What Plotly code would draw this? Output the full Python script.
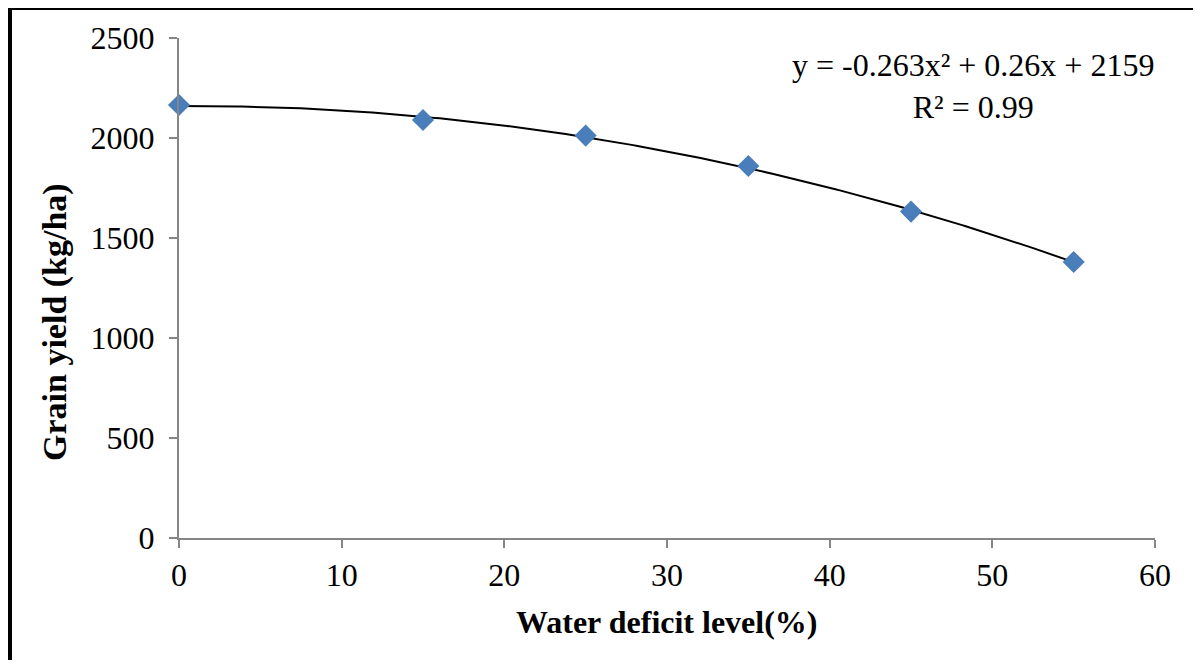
import numpy as np
import plotly.graph_objects as go

# Data
water_deficit = [0, 15, 25, 35, 45, 55]
grain_yield = [2165, 2090, 2012, 1860, 1632, 1380]

x_ticks = [0, 10, 20, 30, 40, 50, 60]
y_ticks = [0, 500, 1000, 1500, 2000, 2500]

equation_text = "y = -0.263x² + 0.26x + 2159"
r2_text = "R² = 0.99"

# Polynomial (order 2) trendline, as in the original
coef = np.polyfit(water_deficit, grain_yield, 2)
xs = np.linspace(min(water_deficit), max(water_deficit), 200)
ys = np.polyval(coef, xs)

FONT = "Liberation Serif, Times New Roman, serif"

fig = go.Figure()
fig.add_trace(go.Scatter(x=xs, y=ys, mode="lines",
                         line=dict(color="black", width=2),
                         hoverinfo="skip", showlegend=False, cliponaxis=False))
fig.add_trace(go.Scatter(x=water_deficit, y=grain_yield, mode="markers",
                         marker=dict(symbol="diamond", size=17, color="#4A7EBB",
                                     line=dict(width=0)),
                         showlegend=False, cliponaxis=False))

OFF = 8  # page body margin
W, H = 1201 - OFF, 668 - 2 * OFF
L, T = 179 - OFF, 38 - OFF
pw, ph = 976, 500
R, B = W - L - pw, H - T - ph

def px(xp):  # page pixel x -> paper
    return (xp - OFF - L) / pw

def py(yp):  # page pixel y -> paper
    return (T + ph - (yp - OFF)) / ph

axis_common = dict(showgrid=False, zeroline=False, showline=True,
                   linecolor="#868686", linewidth=2, ticks="outside",
                   tickcolor="#868686", ticklen=8, tickwidth=2,
                   tickfont=dict(family=FONT, size=32, color="black"))

fig.update_layout(
    width=W, height=H,
    margin=dict(l=L, r=R, t=T, b=B),
    paper_bgcolor="white", plot_bgcolor="white",
    xaxis=dict(range=[0, 60], tickvals=x_ticks, **axis_common),
    yaxis=dict(range=[0, 2500], tickvals=y_ticks, ticklabelstandoff=8, **axis_common),
    annotations=[
        dict(text="<b>Water deficit level(%)</b>", xref="paper", yref="paper",
             x=0.5, y=py(622), showarrow=False, xanchor="center", yanchor="middle",
             font=dict(family=FONT, size=32, color="black")),
        dict(text="<b>Grain yield (kg/ha)</b>", xref="paper", yref="paper",
             x=px(55), y=py(322), showarrow=False, textangle=-90,
             xanchor="center", yanchor="middle",
             font=dict(family=FONT, size=34, color="black")),
        dict(text=equation_text + "<br>" + r2_text, xref="paper", yref="paper",
             x=px(973), y=py(86), showarrow=False, xanchor="center", yanchor="middle",
             align="center",
             font=dict(family=FONT, size=32, color="black")),
    ],
    shapes=[
        dict(type="line", xref="paper", yref="paper", x0=px(9.5), x1=px(9.5),
             y0=py(8), y1=py(670), line=dict(color="black", width=5)),
        dict(type="line", xref="paper", yref="paper", x0=px(7), x1=px(1200),
             y0=py(8.5), y1=py(8.5), line=dict(color="black", width=3)),
        dict(type="line", xref="paper", yref="paper", x0=px(1198.5), x1=px(1198.5),
             y0=py(7), y1=py(670), line=dict(color="black", width=3)),
    ],
)

fig.write_html("out.html")
